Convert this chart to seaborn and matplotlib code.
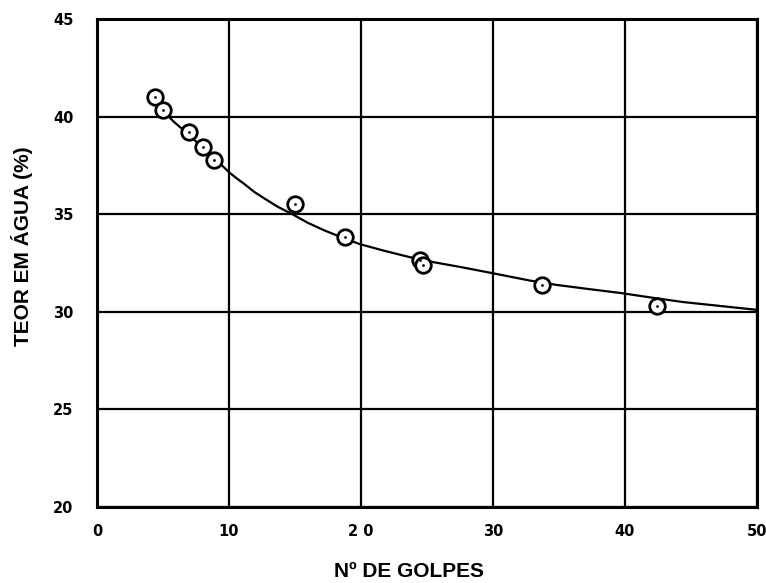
import numpy as np
import pandas as pd
import matplotlib
matplotlib.use("Agg")
import matplotlib.pyplot as plt
import seaborn as sns

# Liquid-limit test: number of blows vs. water content
golpes = [4.4, 5.0, 7.0, 8.0, 8.9, 15.0, 18.8, 24.5, 24.7, 33.7, 42.4]
teor_agua = [41.0, 40.35, 39.2, 38.45, 37.8, 35.5, 33.85, 32.65, 32.4, 31.35, 30.3]

# hand-drawn flow curve through the test results
curva_x = [5.0, 5.8, 7.0, 8.0, 9.0, 9.55, 10.0, 10.6, 11.2, 11.9, 12.7, 13.7,
           14.8, 16.0, 17.3, 18.6, 19.9, 21.8, 23.7, 25.6, 27.5, 29.8, 32.8,
           34.8, 37.2, 39.6, 42.0, 44.4, 47.2, 50.0]
curva_y = [40.3, 39.75, 39.05, 38.4, 37.75, 37.45, 37.15, 36.83, 36.53, 36.15,
           35.8, 35.38, 35.0, 34.55, 34.15, 33.8, 33.47, 33.12, 32.8, 32.53,
           32.3, 32.0, 31.6, 31.38, 31.17, 30.97, 30.73, 30.5, 30.3, 30.1]

x_ticks = [0, 10, 20, 30, 40, 50]
x_tick_labels = ["0", "10", "2 0", "30", "40", "50"]
y_ticks = [20, 25, 30, 35, 40, 45]

sns.set_style("white")
plt.rcParams["text.color"] = "black"
plt.rcParams["axes.labelcolor"] = "black"
plt.rcParams["xtick.color"] = "black"
plt.rcParams["ytick.color"] = "black"

df = pd.DataFrame({"golpes": golpes, "teor": teor_agua})
curve = pd.DataFrame({"golpes": curva_x, "teor": curva_y})

fig = plt.figure(figsize=(7.66, 5.83), dpi=100)
ax = fig.add_axes([0.1266, 0.1304, 0.8614, 0.837])

sns.lineplot(data=curve, x="golpes", y="teor", ax=ax, color="black",
             linewidth=1.6, zorder=3, sort=False)
sns.scatterplot(data=df, x="golpes", y="teor", ax=ax, marker="o", s=125,
                facecolor="white", edgecolor="black", linewidth=2.0, zorder=4)
sns.scatterplot(data=df, x="golpes", y="teor", ax=ax, marker="o", s=4,
                color="black", edgecolor="black", linewidth=0, zorder=5)

ax.set_xlim(0, 50)
ax.set_ylim(20, 45)
ax.set_xticks(x_ticks)
ax.set_xticklabels(x_tick_labels)
ax.set_yticks(y_ticks)
ax.grid(True, color="black", linewidth=1.6)
ax.set_axisbelow(True)
for s in ax.spines.values():
    s.set_color("black")
    s.set_linewidth(2.2)

ax.tick_params(axis="both", length=0, labelcolor="black")
ax.tick_params(axis="x", pad=12)
ax.tick_params(axis="y", pad=17)
for lab in ax.get_xticklabels() + ax.get_yticklabels():
    lab.set_fontfamily("DejaVu Sans")
    lab.set_fontweight("bold")
    lab.set_fontsize(10.5)
    lab.set_color("black")

ax.set_xlabel("Nº DE GOLPES", fontsize=15, fontweight="bold", color="black",
              family=["Liberation Sans", "DejaVu Sans"])
ax.xaxis.set_label_coords(0.473, -0.113)
ax.set_ylabel("TEOR EM ÁGUA (%)", fontsize=15, fontweight="bold", color="black",
              family=["Liberation Sans", "DejaVu Sans"])
ax.yaxis.set_label_coords(-0.097, 0.535)

fig.savefig("out.png", dpi=100)
